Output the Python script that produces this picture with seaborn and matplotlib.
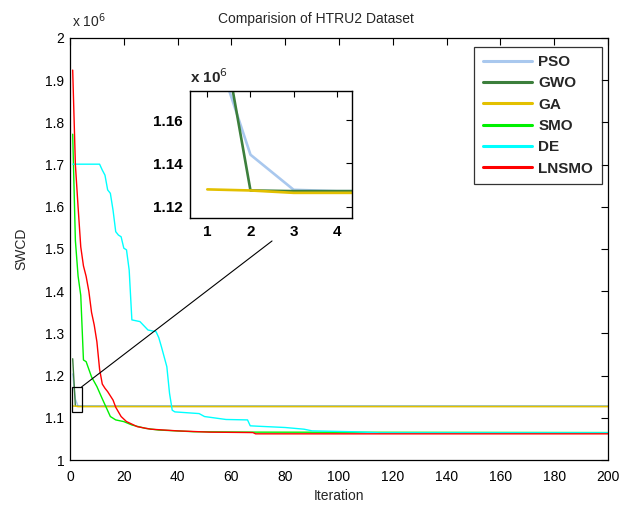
import numpy as np
import pandas as pd
import seaborn as sns
import matplotlib
matplotlib.use("Agg")
import matplotlib.pyplot as plt
from matplotlib.lines import Line2D
from matplotlib.patches import Rectangle

# ---------------- data (SWCD in units of 1e6) ----------------
algorithms = ["PSO", "GWO", "GA", "SMO", "DE", "LNSMO"]
colors = ["#A9C8EE", "#3C7F3C", "#E3C000", "#00F000", "#00FFFF", "#FF0000"]

pso_iter = [1, 2, 3, 4, 200]
pso_val = [1.204, 1.144, 1.1278, 1.1272, 1.1270]

gwo_iter = [1, 2, 3, 200]
gwo_val = [1.240, 1.1275, 1.1272, 1.1272]

ga_iter = [1, 2, 3, 200]
ga_val = [1.128, 1.1275, 1.1264, 1.1264]

smo_iter = [1, 2, 3, 4, 5, 6, 8, 10, 12, 15, 17, 20, 23, 28, 33, 46, 70, 200]
smo_val = [1.772, 1.520, 1.436, 1.390, 1.237, 1.233, 1.197, 1.174, 1.145, 1.103,
           1.095, 1.091, 1.083, 1.075, 1.071, 1.067, 1.066, 1.065]

de_iter = [1, 11, 12, 13, 14, 15, 16, 17, 18, 19, 20, 21, 22, 23, 26, 29, 32, 33,
           34, 36, 37, 38, 39, 48, 50, 58, 66, 67, 70, 80, 87, 90, 105, 115, 200]
de_val = [1.701, 1.701, 1.687, 1.675, 1.640, 1.632, 1.592, 1.541, 1.533, 1.529,
          1.502, 1.498, 1.450, 1.332, 1.328, 1.308, 1.304, 1.290, 1.268, 1.221,
          1.158, 1.118, 1.114, 1.110, 1.103, 1.096, 1.095, 1.081, 1.080, 1.077,
          1.073, 1.069, 1.067, 1.0645, 1.0645]

lnsmo_iter = [1, 2, 3, 4, 5, 6, 7, 8, 9, 10, 11, 12, 13, 14, 16, 17, 19, 21, 25,
              30, 40, 52, 68, 69, 200]
lnsmo_val = [1.924, 1.700, 1.600, 1.505, 1.460, 1.435, 1.400, 1.350, 1.320, 1.280,
             1.215, 1.180, 1.170, 1.162, 1.142, 1.125, 1.103, 1.091, 1.079, 1.073,
             1.069, 1.066, 1.065, 1.062, 1.062]

series_iter = [pso_iter, gwo_iter, ga_iter, smo_iter, de_iter, lnsmo_iter]
series_val = [pso_val, gwo_val, ga_val, smo_val, de_val, lnsmo_val]

x_ticks = [0, 20, 40, 60, 80, 100, 120, 140, 160, 180, 200]
y_ticks = [1, 1.1, 1.2, 1.3, 1.4, 1.5, 1.6, 1.7, 1.8, 1.9, 2]
inset_xticks = [1, 2, 3, 4]
inset_yticks = [1.12, 1.14, 1.16]

frames = []
for name, it, val in zip(algorithms, series_iter, series_val):
    frames.append(pd.DataFrame({"Iteration": it, "SWCD": val, "Algorithm": name}))
df = pd.concat(frames, ignore_index=True)
palette = dict(zip(algorithms, colors))

# ---------------- styling ----------------
sns.set_style("white")
plt.rcParams["font.family"] = ["Liberation Sans", "DejaVu Sans"]
plt.rcParams["axes.linewidth"] = 0.9

W, H = 629, 507
fig = plt.figure(figsize=(W / 100, H / 100), dpi=100)
ax = fig.add_axes([70 / W, 1 - 460 / H, 538 / W, 422 / H])

sns.lineplot(data=df, x="Iteration", y="SWCD", hue="Algorithm", hue_order=algorithms,
             palette=palette, estimator=None, sort=False, linewidth=1.0, ax=ax,
             legend=False)

ax.set_xlim(0, 200)
ax.set_ylim(1, 2)
ax.set_xticks(x_ticks)
ax.set_yticks(y_ticks)
ax.set_xticklabels([f"{v:g}" for v in x_ticks])
ax.set_yticklabels([f"{v:g}" for v in y_ticks])
ax.tick_params(direction="in", top=True, right=True, length=5, width=0.8,
               labelsize=10, colors="black")
ax.tick_params(axis="x", pad=7)
ax.tick_params(axis="y", pad=4)
for s in ax.spines.values():
    s.set_color("black")
    s.set_visible(True)
ax.set_xlabel("Iteration", fontsize=10, labelpad=4)
ax.set_ylabel("SWCD", fontsize=10, labelpad=12)
fig.text(316 / W, 1 - 19 / H, "Comparision of HTRU2 Dataset", ha="center",
         va="center", fontsize=10)
ax.text(0.003, 1.018, r"x 10$^{6}$", transform=ax.transAxes, ha="left", va="bottom",
        fontsize=10)

# legend
handles = [Line2D([0], [0], color=c, lw=2.2) for c in colors]
leg = ax.legend(handles, algorithms, loc="upper right",
                bbox_to_anchor=(601.7 / W, 1 - 46.7 / H),
                bbox_transform=fig.transFigure, borderaxespad=0, frameon=True,
                fancybox=False, handlelength=3.2, handletextpad=0.45,
                labelspacing=0.48, borderpad=0.55,
                prop={"weight": "bold", "size": 11})
leg.get_frame().set_edgecolor("black")
leg.get_frame().set_linewidth(0.9)

# inset
ix0, ix1 = 0.6, 4.35
iy0, iy1 = 1.1148, 1.1734
axin = fig.add_axes([190 / W, 1 - 218 / H, 162 / W, 127 / H])
sns.lineplot(data=df, x="Iteration", y="SWCD", hue="Algorithm", hue_order=algorithms,
             palette=palette, estimator=None, sort=False, linewidth=1.9, ax=axin,
             legend=False)
axin.set_xlim(ix0, ix1)
axin.set_ylim(iy0, iy1)
axin.set_xticks(inset_xticks)
axin.set_yticks(inset_yticks)
axin.set_xticklabels([f"{v:g}" for v in inset_xticks])
axin.set_yticklabels([f"{v:.2f}" for v in inset_yticks])
axin.set_xlabel("")
axin.set_ylabel("")
axin.tick_params(direction="in", top=True, right=True, length=4, width=0.8,
                 labelsize=11, pad=5, colors="black")
for lab in axin.get_xticklabels() + axin.get_yticklabels():
    lab.set_fontweight("bold")
for s in axin.spines.values():
    s.set_color("black")
    s.set_linewidth(1.0)
    s.set_visible(True)
axin.text(0.0, 1.04, r"x 10$^{6}$", transform=axin.transAxes, ha="left",
          va="bottom", fontsize=11, fontweight="bold")

# zoom rectangle and connector
ax.add_patch(Rectangle((ix0, iy0), ix1 - ix0, iy1 - iy0, fill=False,
                       edgecolor="black", lw=0.9, zorder=5))
ax.annotate("", xy=(ix1, iy1), xytext=(75.1, 1.519),
            arrowprops=dict(arrowstyle="-", color="black", lw=0.8,
                            shrinkA=0, shrinkB=0), zorder=5)

fig.savefig("out.png", dpi=100, facecolor="white")
